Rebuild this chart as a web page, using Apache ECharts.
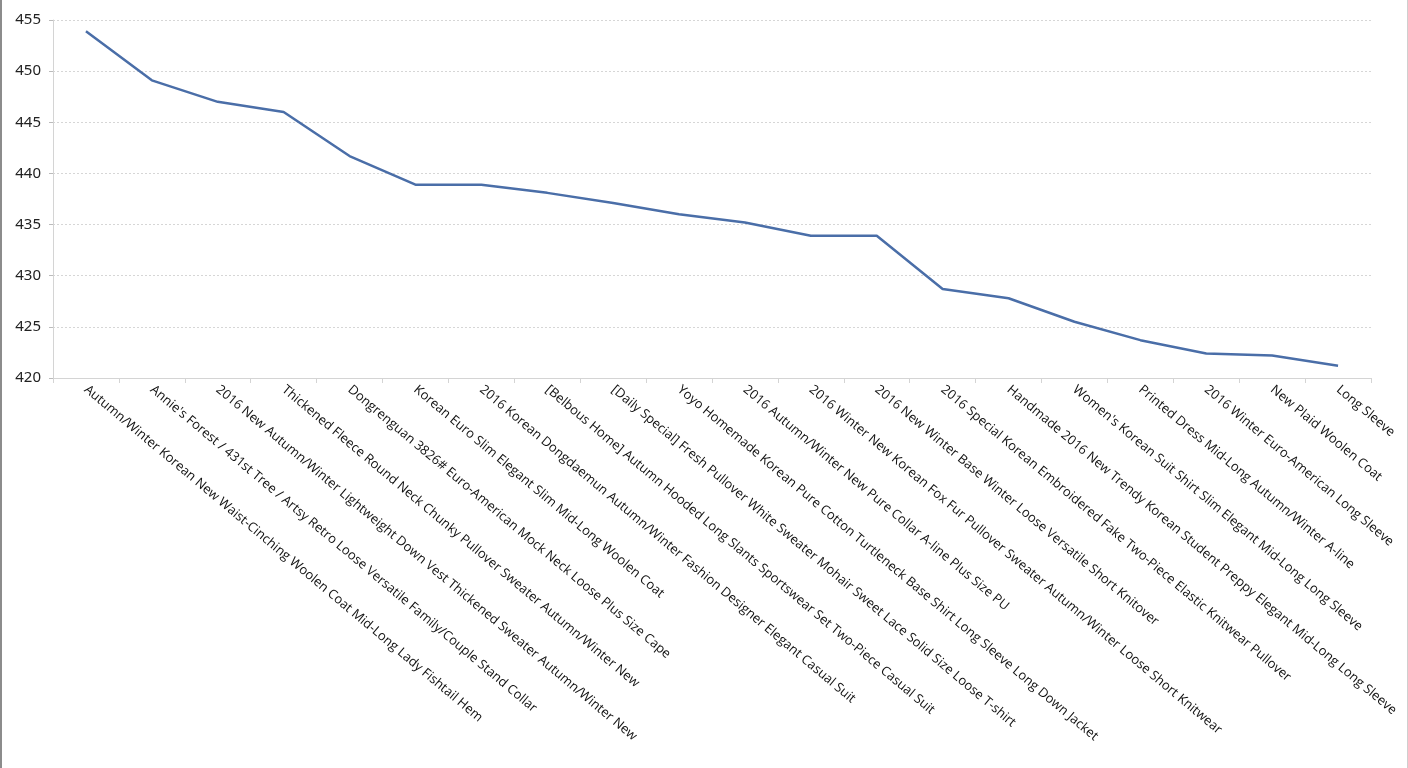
<!DOCTYPE html>
<html>
<head>
<meta charset="utf-8">
<script src="https://cdn.jsdelivr.net/npm/echarts@6/dist/echarts.min.js"></script>
<style>
  html, body { margin: 0; padding: 0; background: #fff; }
  #chart {
    width: 1408px; height: 768px; box-sizing: border-box;
    border-left: 2px solid #8c8c8c; border-right: 1px solid #cfcfcf;
  }
</style>
</head>
<body>
<div id="chart"></div>
<script>
// 商品名称（横轴）
const categories = [
  "Autumn/Winter Korean New Waist-Cinching Woolen Coat Mid-Long Lady Fishtail Hem",
  "Annie's Forest / 431st Tree / Artsy Retro Loose Versatile Family/Couple Stand Collar",
  "2016 New Autumn/Winter Lightweight Down Vest Thickened Sweater Autumn/Winter New",
  "Thickened Fleece Round Neck Chunky Pullover Sweater Autumn/Winter New",
  "Dongrenguan 3826# Euro-American Mock Neck Loose Plus Size Cape",
  "Korean Euro Slim Elegant Slim Mid-Long Woolen Coat",
  "2016 Korean Dongdaemun Autumn/Winter Fashion Designer Elegant Casual Suit",
  "[Belbous Home] Autumn Hooded Long Slants Sportswear Set Two-Piece Casual Suit",
  "[Daily Special] Fresh Pullover White Sweater Mohair Sweet Lace Solid Size Loose T-shirt",
  "Yoyo Homemade Korean Pure Cotton Turtleneck Base Shirt Long Sleeve Long Down Jacket",
  "2016 Autumn/Winter New Pure Collar A-line Plus Size PU",
  "2016 Winter New Korean Fox Fur Pullover Sweater Autumn/Winter Loose Short Knitwear",
  "2016 New Winter Base Winter Loose Versatile Short Knitover",
  "2016 Special Korean Embroidered Fake Two-Piece Elastic Knitwear Pullover",
  "Handmade 2016 New Trendy Korean Student Preppy Elegant Mid-Long Long Sleeve",
  "Women's Korean Suit Shirt Slim Elegant Mid-Long Long Sleeve",
  "Printed Dress Mid-Long Autumn/Winter A-line",
  "2016 Winter Euro-American Long Sleeve",
  "New Plaid Woolen Coat",
  "Long Sleeve"
];

// 数值
const values = [
  453.9, 449.1, 447.0, 446.0, 441.7, 438.9, 438.9, 438.1, 437.1, 436.0,
  435.2, 433.9, 433.9, 428.7, 427.8, 425.5, 423.7, 422.4, 422.2, 421.2
];

const yMin = 420;
const yMax = 455;
const yStep = 5;

const myChart = echarts.init(document.getElementById('chart'));
const option = {
  animation: false,
  grid: { left: 51, right: 36, top: 20, bottom: 390, outerBoundsMode: 'none' },
  xAxis: {
    type: 'category',
    data: categories,
    boundaryGap: true,
    axisLine: { lineStyle: { color: '#d4d4d4', width: 1 } },
    axisTick: { show: true, length: 5, lineStyle: { color: '#d4d4d4' } },
    axisLabel: {
      interval: 0,
      rotate: -40,
      margin: 10,
      color: '#111',
      fontSize: 13,
      fontFamily: 'Open Sans'
    }
  },
  yAxis: {
    type: 'value',
    min: yMin,
    max: yMax,
    interval: yStep,
    axisLine: { show: true, lineStyle: { color: '#d4d4d4' } },
    axisTick: { show: true, length: 4, lineStyle: { color: '#bbb' } },
    splitLine: { lineStyle: { color: '#d6d6d6', type: [2, 2] } },
    axisLabel: {
      margin: 12,
      color: '#222',
      fontSize: 15,
      fontFamily: 'Noto Sans'
    }
  },
  series: [
    {
      type: 'line',
      data: values,
      showSymbol: false,
      lineStyle: { color: '#4a6ea8', width: 2.5 },
      itemStyle: { color: '#4a6ea8' }
    }
  ]
};
option && myChart.setOption(option);
</script>
</body>
</html>
